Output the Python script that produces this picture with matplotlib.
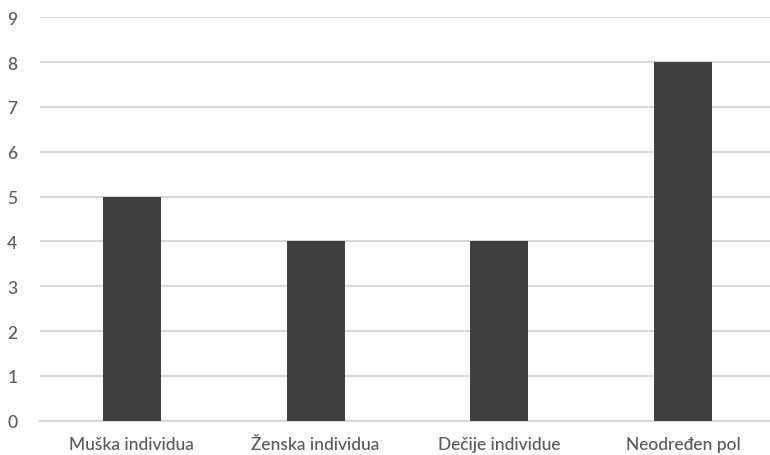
import matplotlib
matplotlib.use("Agg")
import matplotlib.pyplot as plt

categories = ["Muška individua", "Ženska individua", "Dečije individue", "Neodređen pol"]
values = [5, 4, 4, 8]
y_ticks = [0, 1, 2, 3, 4, 5, 6, 7, 8, 9]

plt.rcParams['font.family'] = ['Lato', 'DejaVu Sans']

W, H = 770, 456
fig = plt.figure(figsize=(W / 100, H / 100), dpi=100)
left, right = 40, 775
y0, y9 = 421.7, 18.3
ax = fig.add_axes([left / W, (H - y0) / H, (right - left) / W, (y0 - y9) / H])

x = list(range(len(categories)))
ax.bar(x, values, width=0.315, color="#404040", zorder=3)

ax.set_xlim(-0.5, len(categories) - 0.5)
ax.set_ylim(0, 9)
ax.set_yticks(y_ticks)
ax.set_xticks(x)
ax.set_xticklabels(categories)
ax.yaxis.grid(True, color="#d9d9d9", linewidth=1.5, zorder=0)
ax.set_axisbelow(True)
for s in ax.spines.values():
    s.set_visible(False)
ax.spines['bottom'].set_visible(True)
ax.spines['bottom'].set_color("#d9d9d9")
ax.spines['bottom'].set_linewidth(1.5)
ax.tick_params(axis='both', length=0, colors="#595959", labelsize=12.5)
ax.tick_params(axis='y', pad=20)
ax.tick_params(axis='x', pad=11)
for lbl in ax.get_yticklabels() + ax.get_xticklabels():
    lbl.set_fontweight('medium')
for lbl in ax.get_yticklabels():
    lbl.set_horizontalalignment('center')

fig.savefig("out.png", dpi=100)
